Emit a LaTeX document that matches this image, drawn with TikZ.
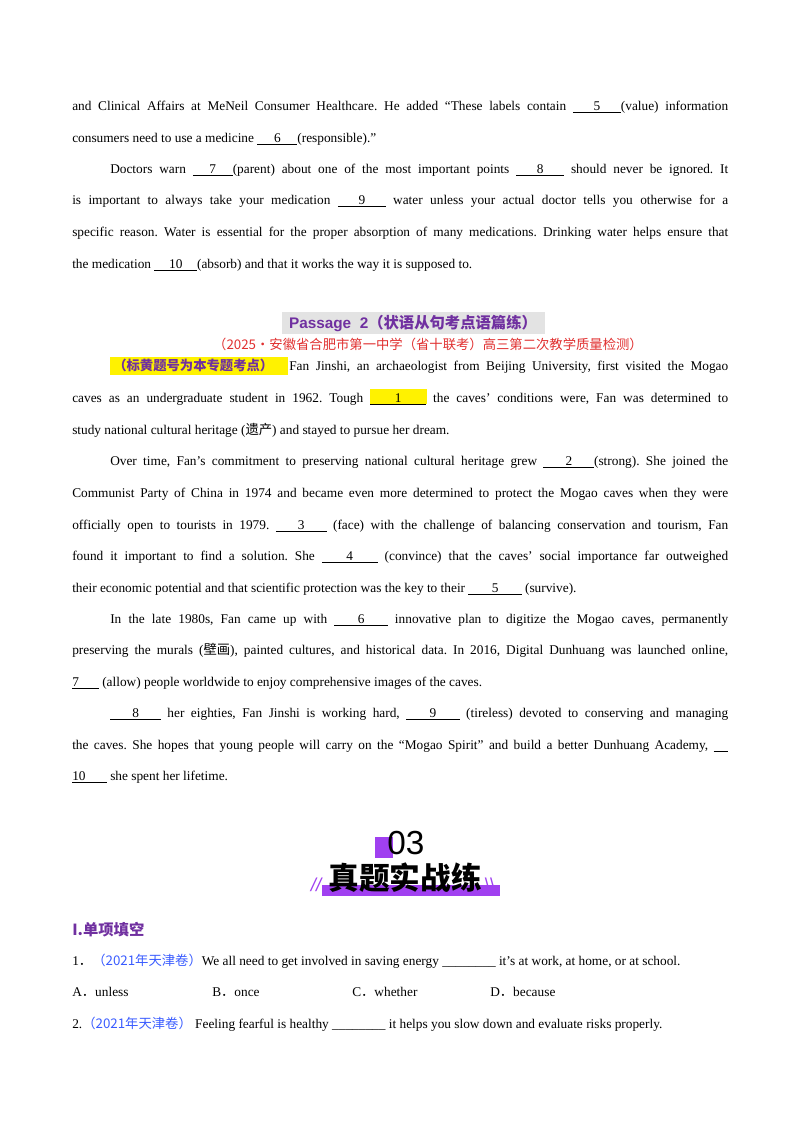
\documentclass[tikz,border=0pt]{standalone}
\usepackage{fontspec}
\setmainfont{Liberation Serif}
\newfontfamily\cjk{Noto Sans CJK SC}
\newcommand\cjkb{\cjk\bfseries}
\newfontfamily\hsans{Liberation Sans}
\definecolor{hpurple}{HTML}{7030A0}
\definecolor{bpurple}{HTML}{A040F0}
\definecolor{hred}{HTML}{E03030}
\definecolor{hblue}{HTML}{3A5CFF}
\frenchspacing
\newcommand\bl[2]{\underline{\makebox[#1][c]{#2}}}
\newcommand\myJ[4]{\node[tl] (#1) at (#2,#3) {\makebox[\dimexpr(728pt-#2pt)*3/4\relax][s]{#4}};}
\newcommand\myL[4]{\node[tl] (#1) at (#2,#3) {#4};}
\tikzset{tl/.style={anchor=base west,inner sep=0pt,font=\fontsize{10}{12}\selectfont\frenchspacing}}
\begin{document}
\begin{tikzpicture}[x=0.75pt,y=-0.75pt]
\useasboundingbox (0,0) rectangle (800,1132);
\myJ{l1}{72}{110}{and Clinical Affairs at MeNeil Consumer Healthcare. He added “These labels contain \bl{36pt}{5}(value) information}
\myL{l2}{72}{142}{consumers need to use a medicine \bl{30pt}{6}(responsible).”}
\myJ{l3}{110}{173}{Doctors warn \bl{30pt}{7}(parent) about one of the most important points \bl{36pt}{8} should never be ignored. It}
\myJ{l4}{72}{204}{is important to always take your medication \bl{36pt}{9} water unless your actual doctor tells you otherwise for a}
\myJ{l5}{72}{236}{specific reason. Water is essential for the proper absorption of many medications. Drinking water helps ensure that}
\myL{l6}{72}{268}{the medication \bl{32pt}{10}(absorb) and that it works the way it is supposed to.}
% header
\fill[gray!22] (282,312) rectangle (545,334);
\node[inner sep=0pt,text=hpurple,font=\fontsize{11.5}{13}\selectfont] (h1) at (413,323) {\hsans\bfseries Passage\ \ 2\cjkb（状语从句考点语篇练）};
\node[inner sep=0pt,text=hred,font=\fontsize{10}{12}\selectfont] (h2) at (428,344) {\cjk（2025·安徽省合肥市第一中学（省十联考）高三第二次教学质量检测）};
\fill[yellow] (110,357) rectangle (288,375);
\node[tl,text=hpurple] (hl) at (113,370) {\cjkb（标黄题号为本专题考点）};
\myJ{p1}{289}{370}{Fan Jinshi, an archaeologist from Beijing University, first visited the Mogao}
\fill[yellow] (370,389) rectangle (427,404);
\myJ{p2}{72}{402}{caves as an undergraduate student in 1962. Tough \bl{42pt}{1} the caves’ conditions were, Fan was determined to}
\myL{p3}{72}{434}{study national cultural heritage ({\cjk 遗产}) and stayed to pursue her dream.}
\myJ{p4}{110}{465}{Over time, Fan’s commitment to preserving national cultural heritage grew \bl{38pt}{2}(strong). She joined the}
\myJ{p5}{72}{497}{Communist Party of China in 1974 and became even more determined to protect the Mogao caves when they were}
\myJ{p6}{72}{529}{officially open to tourists in 1979. \bl{38pt}{3} (face) with the challenge of balancing conservation and tourism, Fan}
\myJ{p7}{72}{560}{found it important to find a solution. She \bl{42pt}{4} (convince) that the caves’ social importance far outweighed}
\myL{p8}{72}{592}{their economic potential and that scientific protection was the key to their \bl{40pt}{5} (survive).}
\myJ{p9}{110}{623}{In the late 1980s, Fan came up with \bl{40pt}{6} innovative plan to digitize the Mogao caves, permanently}
\myJ{p10}{72}{654}{preserving the murals ({\cjk 壁画}), painted cultures, and historical data. In 2016, Digital Dunhuang was launched online,}
\myL{p11}{72}{686}{\bl{20pt}{7\hfill} (allow) people worldwide to enjoy comprehensive images of the caves.}
\myJ{p12}{110}{717}{\bl{38pt}{8} her eighties, Fan Jinshi is working hard, \bl{40pt}{9} (tireless) devoted to conserving and managing}
\myJ{p13}{72}{749}{the caves. She hopes that young people will carry on the “Mogao Spirit” and build a better Dunhuang Academy, \bl{11pt}{}}
\myL{p14}{72}{780}{\bl{26pt}{10\hfill} she spent her lifetime.}
% 03 block
\fill[bpurple] (375,837) rectangle (393,858);
\node[inner sep=0pt,font=\fontsize{25}{28}\selectfont] (n03) at (406,843) {\hsans 03};
\fill[bpurple] (322,885) rectangle (500,896);
\node[inner sep=0pt,font=\fontsize{23}{25}\selectfont] (tt) at (405,878) {\cjkb 真题实战练};
\node[inner sep=0pt,text=bpurple,font=\fontsize{14}{15}\selectfont\itshape] (s1) at (316,885) {\hsans//};
\node[inner sep=0pt,text=bpurple,font=\fontsize{14}{15}\selectfont] (s2) at (490,885) {\hsans\textbackslash\textbackslash};
\node[tl,text=hpurple,font=\fontsize{11.5}{13}\selectfont] (sec) at (72,935) {\cjkb I.单项填空};
\myL{q1}{72}{965}{1{\cjk．}{\color{hblue}\cjk（2021年天津卷）}We all need to get involved in saving energy \_\_\_\_\_\_\_\_ it's at work, at home, or at school.}
\myL{oA}{72}{996}{A{\cjk．}unless}
\myL{oB}{212}{996}{B{\cjk．}once}
\myL{oC}{352}{996}{C{\cjk．}whether}
\myL{oD}{490}{996}{D{\cjk．}because}
\myL{q2}{72}{1028}{2.{\color{hblue}\cjk（2021年天津卷）}\ Feeling fearful is healthy \_\_\_\_\_\_\_\_ it helps you slow down and evaluate risks properly.}
\end{tikzpicture}
\end{document}
